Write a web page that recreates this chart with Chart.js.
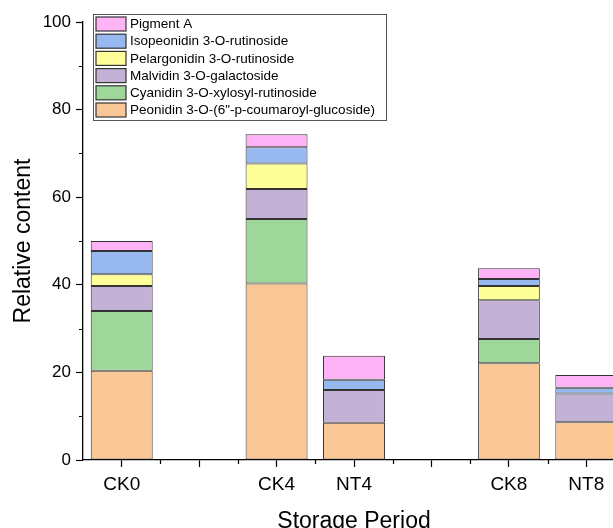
<!DOCTYPE html>
<html>
<head>
<meta charset="utf-8">
<script src="https://cdn.jsdelivr.net/npm/chart.js@4"></script>
<style>
  html, body { margin: 0; padding: 0; background: #fff; overflow: hidden; }
  #wrap { width: 613px; height: 528px; overflow: hidden; position: relative; }
  canvas { position: absolute; left: 0; top: 0; }
</style>
</head>
<body>
<div id="wrap"><canvas id="chart" width="640" height="560"></canvas></div>
<script>
const categories = ['CK0', '', 'CK4', 'NT4', '', 'CK8', 'NT8'];
const seriesNames = [
    'Peonidin 3-O-(6"-p-coumaroyl-glucoside)',
    'Cyanidin 3-O-xylosyl-rutinoside',
    'Malvidin 3-O-galactoside',
    'Pelargonidin 3-O-rutinoside',
    'Isopeonidin 3-O-rutinoside',
    'Pigment A'
];
const peonidin = [20.4, null, 40.3, 8.5, null, 22.1, 8.6];
const cyanidin = [13.6, null, 14.7, 0, null, 5.5, 0];
const malvidin = [5.7, null, 6.9, 7.5, null, 8.9, 6.6];
const pelargonidin = [2.7, null, 5.8, 0, null, 3.2, 0];
const isopeonidin = [5.3, null, 3.7, 2.3, null, 1.6, 1.3];
const pigmentA = [2.3, null, 3.0, 5.5, null, 2.5, 2.9];
const yTicks = [0, 20, 40, 60, 80, 100];
const yMinorTicks = [10, 30, 50, 70, 90];

const colors = ['#FAC896', '#9FD79B', '#C3B1D6', '#FFFF9A', '#98B9F0', '#FDB3F5'];
const seriesValues = [peonidin, cyanidin, malvidin, pelargonidin, isopeonidin, pigmentA];
const FONT = '"Liberation Sans", Arial, sans-serif';

// minor ticks and the legend box
const extras = {
    id: 'extras',
    afterDraw(chart) {
        const ctx = chart.ctx;
        const x = chart.scales.x, y = chart.scales.y;
        ctx.save();
        ctx.strokeStyle = '#000';
        ctx.lineWidth = 1.2;
        ctx.beginPath();
        yMinorTicks.forEach(v => {
            const py = Math.round(y.getPixelForValue(v)) + 0.5;
            ctx.moveTo(x.left - 4, py);
            ctx.lineTo(x.left, py);
        });
        for (let i = 0; i < categories.length - 1; i++) {
            const px = Math.round((x.getPixelForValue(i) + x.getPixelForValue(i + 1)) / 2) + 0.5;
            ctx.moveTo(px, y.bottom);
            ctx.lineTo(px, y.bottom + 4);
        }
        ctx.stroke();

        // legend
        const bx = 93.5, by = 14.5, bw = 293, bh = 106;
        ctx.lineWidth = 1;
        ctx.strokeStyle = '#555';
        ctx.fillStyle = '#fff';
        ctx.fillRect(bx, by, bw, bh);
        ctx.strokeRect(bx, by, bw, bh);
        ctx.font = '13.5px ' + FONT;
        ctx.textBaseline = 'middle';
        const ds = chart.data.datasets.slice().reverse();
        ds.forEach((d, i) => {
            const cy = 24 + i * 17.2;
            ctx.fillStyle = d.backgroundColor;
            ctx.fillRect(96, cy - 7, 30, 14);
            ctx.strokeStyle = '#333';
            ctx.lineWidth = 1.2;
            ctx.strokeRect(96, cy - 7, 30, 14);
            ctx.fillStyle = '#000';
            ctx.fillText(d.label, 130, cy + 0.5);
        });
        ctx.restore();
    }
};

new Chart(document.getElementById('chart'), {
    type: 'bar',
    data: {
        labels: categories,
        datasets: seriesNames.map((name, i) => ({
            label: name,
            data: seriesValues[i],
            backgroundColor: colors[i],
            borderColor: '#333',
            borderWidth: 1,
            borderSkipped: false,
            barPercentage: 0.8,
            categoryPercentage: 1.0
        }))
    },
    options: {
        responsive: false,
        animation: false,
        devicePixelRatio: 1,
        layout: { padding: { top: 22, right: 15, left: 0, bottom: 0 } },
        plugins: { legend: { display: false }, tooltip: { enabled: false } },
        scales: {
            x: {
                stacked: true,
                offset: true,
                grid: { offset: false, drawOnChartArea: false, drawTicks: true, tickLength: 7, color: '#000', tickWidth: 1.2 },
                border: { display: true, color: '#000', width: 1.3 },
                ticks: { color: '#000', font: { family: FONT, size: 19 }, padding: 6, maxRotation: 0, autoSkip: false },
                title: { display: true, text: 'Storage Period', color: '#000', font: { family: FONT, size: 23 }, padding: { top: 0, bottom: 25 } },
                afterFit(scale) { scale.height = 100; }
            },
            y: {
                stacked: true,
                min: 0,
                max: 100,
                afterBuildTicks(scale) { scale.ticks = yTicks.map(v => ({ value: v })); },
                grid: { drawOnChartArea: false, drawTicks: true, tickLength: 7, color: '#000', tickWidth: 1.2 },
                border: { display: true, color: '#000', width: 1.3 },
                ticks: { color: '#000', font: { family: FONT, size: 17 }, padding: 5 },
                title: { display: true, text: 'Relative content', color: '#000', font: { family: FONT, size: 23 }, padding: { top: 10, bottom: 0 } },
                afterFit(scale) { scale.width = 83; }
            }
        }
    },
    plugins: [extras]
});
</script>
</body>
</html>
